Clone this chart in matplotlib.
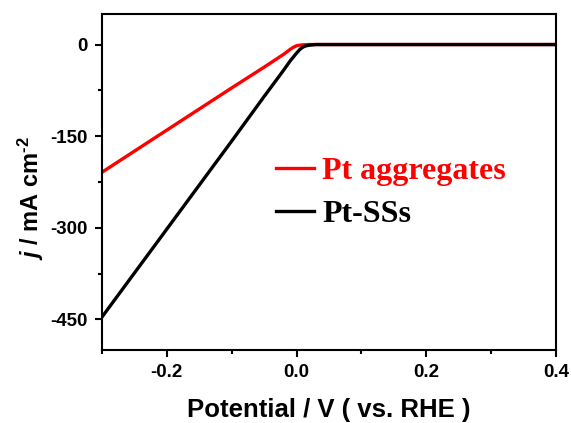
import numpy as np
import matplotlib.pyplot as plt

plt.rcParams["axes.unicode_minus"] = False
plt.rcParams["mathtext.fontset"] = "custom"
plt.rcParams["mathtext.rm"] = "Liberation Sans:bold"
plt.rcParams["mathtext.bf"] = "Liberation Sans:bold"
plt.rcParams["mathtext.it"] = "Liberation Sans:italic:bold"

# LSV polarisation curves (current density vs potential)
pt_agg_v = [-0.3, -0.2, -0.1, -0.05, -0.02, -0.01, -0.005, 0.0, 0.005, 0.01, 0.02, 0.05, 0.1, 0.2, 0.3, 0.4]
pt_agg_j = [-209, -140, -71, -37, -16, -8, -4.5, -2, -1, -0.5, 0, 0, 0, 0, 0, 0]

pt_ss_v = [-0.3, -0.2, -0.1, -0.05, -0.02, -0.01, 0.0, 0.005, 0.01, 0.015, 0.02, 0.03, 0.05, 0.1, 0.2, 0.3, 0.4]
pt_ss_j = [-446, -302, -158, -85, -42, -27, -14, -8, -4, -2, -1, 0, 0, 0, 0, 0, 0]

fig = plt.figure(figsize=(5.71, 4.23), dpi=100)
ax = fig.add_axes([102 / 571, 1 - 350 / 423, (556 - 102) / 571, (350 - 14) / 423])

ax.plot(pt_agg_v, pt_agg_j, color="#ff0000", lw=2.4, label="Pt aggregates")
ax.plot(pt_ss_v, pt_ss_j, color="black", lw=2.4, label="Pt-SSs")

ax.set_xlim(-0.3, 0.4)
ax.set_ylim(-500, 50)
ax.set_xticks([-0.2, 0.0, 0.2, 0.4])
ax.set_xticks([-0.3, -0.1, 0.1, 0.3], minor=True)
ax.set_yticks([0, -150, -300, -450])
ax.set_yticks([-75, -225, -375], minor=True)
ax.set_xticklabels(["-0.2", "0.0", "0.2", "0.4"])
ax.set_yticklabels(["0", "-150", "-300", "-450"])

for s in ax.spines.values():
    s.set_linewidth(1.5)
ax.tick_params(which="major", direction="out", length=5, width=1.5, labelsize=13.5, pad=5)
ax.tick_params(which="minor", direction="out", length=3, width=1.5)
for lab in ax.get_xticklabels() + ax.get_yticklabels():
    lab.set_fontweight("bold")
    lab.set_family("Liberation Sans")

ax.set_xlabel("Potential / V ( vs. RHE )", fontsize=18.5, fontweight="bold",
              family="Liberation Sans", labelpad=12)
ax.set_ylabel(r"$\it{j}$ / mA cm$^{\text{-2}}$", fontsize=17, fontweight="bold",
              family="Liberation Sans")
ax.yaxis.set_label_coords(-0.124, 0.452)

leg = ax.legend(loc="upper left", bbox_to_anchor=(0.348, 0.623), frameon=False,
                borderpad=0, handlelength=1.2, handletextpad=0.25, labelspacing=0.42,
                prop={"family": "Liberation Serif", "weight": "bold", "size": 23})
leg.get_texts()[0].set_color("#ff0000")

fig.savefig("out.png", dpi=100)
